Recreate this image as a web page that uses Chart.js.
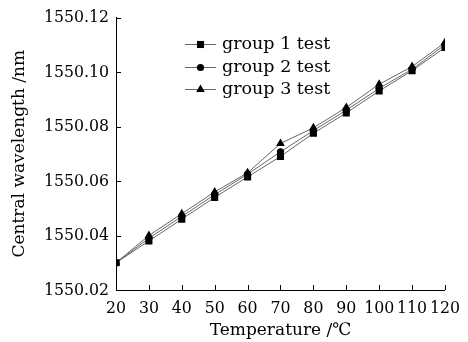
<!DOCTYPE html>
<html><head><meta charset="utf-8">
<script src="https://cdn.jsdelivr.net/npm/chart.js@4/dist/chart.umd.min.js"></script>
<style>html,body{margin:0;padding:0;background:#fff;}canvas{display:block;}</style>
</head><body>
<canvas id="c" width="468" height="342"></canvas>
<script>
const temperatures = [20,30,40,50,60,70,80,90,100,110,120];
const group1 = [1550.030,1550.038,1550.046,1550.054,1550.0615,1550.069,1550.0775,1550.085,1550.093,1550.1005,1550.109];
const group2 = [1550.030,1550.039,1550.047,1550.055,1550.0625,1550.0707,1550.0785,1550.086,1550.094,1550.101,1550.110];
const group3 = [1550.030,1550.040,1550.048,1550.056,1550.063,1550.0738,1550.0795,1550.087,1550.0955,1550.102,1550.1108];
const seriesNames = ['group 1 test','group 2 test','group 3 test'];
const yTicks = [1550.02,1550.04,1550.06,1550.08,1550.10,1550.12];
const xTicks = [20,30,40,50,60,70,80,90,100,110,120];

const FONT = 'DejaVu Serif';
const TICKFONT = '"DejaVu Serif Condensed", "DejaVu Serif"';
const styles = [
  {pointStyle:'rect', radius:5},
  {pointStyle:'circle', radius:3.6},
  {pointStyle:'triangle', radius:5}
];
const seriesData = [group1, group2, group3];
const datasets = seriesData.map((vals,i)=>({
  label: seriesNames[i],
  data: temperatures.map((t,j)=>({x:t,y:vals[j]})),
  borderColor:'#666', borderWidth:1,
  backgroundColor:'#000', pointBackgroundColor:'#000', pointBorderColor:'#000', pointBorderWidth:0,
  pointStyle: styles[i].pointStyle, pointRadius: styles[i].radius, pointHoverRadius: styles[i].radius,
  tension:0, fill:false
}));

const inwardTicks = {
  id:'inwardTicks',
  afterDraw(chart){
    const ctx = chart.ctx, xs = chart.scales.x, ys = chart.scales.y;
    const area = chart.chartArea;
    ctx.save();
    ctx.strokeStyle = '#000'; ctx.lineWidth = 1;
    ctx.beginPath();
    xs.ticks.forEach(t=>{ const px = Math.round(xs.getPixelForValue(t.value))+0.5; ctx.moveTo(px, area.bottom); ctx.lineTo(px, area.bottom-5); });
    ys.ticks.forEach(t=>{ const py = Math.round(ys.getPixelForValue(t.value))+0.5; ctx.moveTo(area.left, py); ctx.lineTo(area.left+5, py); });
    ctx.stroke();
    ctx.restore();
  }
};

const customLegend = {
  id:'customLegend',
  afterDatasetsDraw(chart){
    const ctx = chart.ctx;
    const rows = [44, 67, 89];
    ctx.save();
    chart.data.datasets.forEach((ds,i)=>{
      const y = rows[i];
      ctx.strokeStyle = ds.borderColor; ctx.lineWidth = 1;
      ctx.beginPath(); ctx.moveTo(185, y+0.5); ctx.lineTo(216, y+0.5); ctx.stroke();
      ctx.fillStyle = '#000'; ctx.strokeStyle = '#000';
      Chart.helpers.drawPoint(ctx, {pointStyle: ds.pointStyle, radius: ds.pointRadius, borderWidth: 0, rotation: 0}, 200.5, y+0.5);
      ctx.fillStyle = '#000';
      ctx.font = '17.5px "' + FONT + '"';
      ctx.textBaseline = 'middle'; ctx.textAlign = 'left';
      ctx.fillText(ds.label, 222, y);
    });
    ctx.restore();
  }
};

new Chart(document.getElementById('c'), {
  type:'line',
  data:{datasets},
  options:{
    responsive:false, animation:false,
    layout:{padding:{left:0, top:17, right:21, bottom:0}},
    plugins:{legend:{display:false}, tooltip:{enabled:false}},
    scales:{
      x:{
        type:'linear', min:20, max:120,
        afterBuildTicks(s){ s.ticks = xTicks.map(v=>({value:v})); },
        afterFit(s){ s.height = 52; },
        grid:{display:true, drawOnChartArea:false, drawTicks:false},
        border:{display:true, color:'#000', width:1},
        ticks:{color:'#000', font:{family:TICKFONT, size:17.5}, padding:8, maxRotation:0, autoSkip:false},
        title:{display:true, text:'Temperature /℃', color:'#000', font:{family:FONT, size:17}, padding:{top:0, bottom:1}}
      },
      y:{
        type:'linear', min:1550.02, max:1550.12,
        afterBuildTicks(s){ s.ticks = yTicks.map(v=>({value:v})); },
        afterFit(s){ s.width = 116; },
        grid:{display:true, drawOnChartArea:false, drawTicks:false},
        border:{display:true, color:'#000', width:1},
        ticks:{color:'#000', font:{family:TICKFONT, size:17.5}, padding:7, callback:v=>Number(v).toFixed(2), autoSkip:false},
        title:{display:true, text:'Central wavelength /nm', color:'#000', font:{family:FONT, size:17}, padding:{top:9, bottom:0}}
      }
    }
  },
  plugins:[inwardTicks, customLegend]
});
</script>
</body></html>
